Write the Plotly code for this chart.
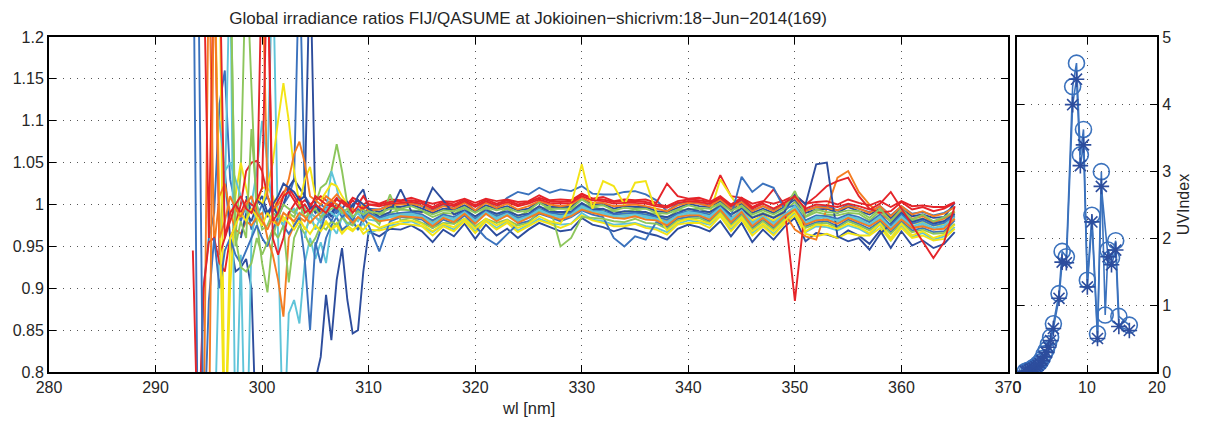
import plotly.graph_objects as go

# Wavelength grid [nm]: 0.5 nm steps up to 310 nm, 1 nm steps above
wl = [293.5, 294.0, 294.5, 295.0, 295.5, 296.0, 296.5, 297.0, 297.5, 298.0,
      298.5, 299.0, 299.5, 300.0, 300.5, 301.0, 301.5, 302.0, 302.5, 303.0,
      303.5, 304.0, 304.5, 305.0, 305.5, 306.0, 306.5, 307.0, 307.5, 308.0,
      308.5, 309.0, 309.5, 310.0,
      311, 312, 313, 314, 315, 316, 317, 318, 319, 320,
      321, 322, 323, 324, 325, 326, 327, 328, 329, 330,
      331, 332, 333, 334, 335, 336, 337, 338, 339, 340,
      341, 342, 343, 344, 345, 346, 347, 348, 349, 350,
      351, 352, 353, 354, 355, 356, 357, 358, 359, 360,
      361, 362, 363, 364, 365]

# Ratio FIJ/QASUME (x1000) per scan; each scan ends at 365 nm
scan_01 = [950,1040,960,920,925,935,900,700,650,600,620,640,660,600,650,700,720,760,790,818,892,838,910,948,886,846,850,920,968,
           962,971,970,975,968,955,970,962,977,959, 976,963,971,960,970,978,973,968,970,984,
           976,973,968,972,970,966,963,958,971,976, 973,968,980,962,978,955,970,958,973,984,
           956,966,964,960,969,963,953,969,948,968, 951,957,948,953,967]
scan_02 = [1400,650,900,960,990,1120,1160,1030,1000,980,1000,970,985,1000,1010,995,990,1000,1010,1030,1300,1010,1000,990,1000,995,1005,990,995,985,1000,1005,990,995,
           994,1000,1001,1003,998,993,1000,995,1004,993, 1004,996,1008,1015,1012,1020,1014,1018,1016,1022,
           1013,1012,1012,1015,1016,1012,1005,992,1001,1003, 1001,999,1007,997,1004,993,998,993,1000,1009,
           993,997,998,993,1000,995,991,998,987,998, 989,991,987,990,997]
scan_03 = [700,960,1010,1300,700,940,650,960,1000,980,1040,1300,960,700,870,886,858,930,960,935,955,930,975,965,985,975,980,970,978,965,
           971,975,977,980,974,967,976,970,982,968, 981,972,980,969,976,983,978,976,977,990,
           982,980,976,977,978,974,972,967,977,981, 979,976,986,970,983,966,975,965,978,990,
           967,974,973,969,975,971,964,976,957,975, 961,966,958,962,973]
scan_04 = [960,1040,1300,1130,980,930,895,960,985,975,990,985,1000,995,985,1000,1020,1025,1040,1072,1040,1000,985,990,995,985,
           988,990,994,993,992,985,990,989,996,985, 996,988,995,986,992,997,994,990,994,1001,
           997,994,992,991,994,990,989,984,993,994, 995,990,1001,987,998,985,990,985,992,1003,
           985,991,988,987,990,989,981,992,979,990, 981,983,979,980,991]
scan_05 = [1300,700,900,1010,1050,1020,990,1000,1020,1020,1010,990,980,990,975,985,970,980,975,970,980,972,978,968,975,970,975,965,970,
           969,972,977,976,974,963,974,968,980,966, 980,970,978,967,974,981,977,972,977,987,
           981,978,974,974,977,972,970,964,976,978, 978,972,986,968,982,963,974,963,977,987,
           965,962,965,960,966,963,963,972,957,972, 960,963,957,959,971]
scan_06 = [700,1300,950,1010,1025,990,970,965,980,975,985,990,960,940,910,866,960,975,985,980,990,985,980,990,1000,995,990,985,995,990,1000,992,
           984,986,990,989,988,979,988,983,992,981, 992,984,991,982,988,993,990,986,990,997,
           993,990,988,987,990,986,985,980,989,990, 991,986,997,983,994,979,988,979,990,970,
           962,958,995,1032,1040,1015,1000,988,981,992, 983,986,979,983,991]
scan_07 = [945,700,900,955,960,930,920,960,975,1000,1040,1050,1052,1040,1010,990,1005,1015,1020,1010,1000,1005,1000,1005,1010,1005,1000,1008,1003,1000,1008,1005,1000,1004,
           1001,1006,1005,1008,1004,1001,1004,1003,1007,1002, 1007,1004,1006,1003,1004,1011,1005,1006,1005,1013,
           1007,1009,1004,1006,1005,1006,1002,1025,1010,1007, 1008,1004,1035,1010,1008,1001,1004,1001,1005,1011,
           1001,1003,1004,1000,1006,1002,999,1004,997,1004, 998,999,997,997,1003]
scan_08 = [960,990,980,1000,1010,990,1000,985,1000,1020,1030,1020,1010,1300,990,995,985,990,1000,995,1003,995,1010,1018,995,
           991,997,997,1000,995,990,995,994,999,992, 999,995,998,993,995,1004,997,997,997,1008,
           1000,1001,995,998,997,997,992,991,996,1001, 998,997,1004,994,1001,990,995,990,997,1006,
           990,994,995,990,997,992,988,995,984,995, 986,988,984,985,1002]
scan_09 = [1300,700,885,960,900,945,960,940,930,945,960,975,960,950,970,985,975,965,975,985,935,850,955,930,960,975,985,970,975,980,970,985,975,
           944,980,985,984,982,972,982,977,987,974, 960,952,965,977,980,989,985,980,985,993,
           988,985,960,950,962,958,979,973,983,985, 986,980,993,977,989,972,982,972,985,993,
           974,979,980,974,982,977,971,980,967,980, 969,972,967,968,981]
scan_10 = [1100,1040,1050,1030,1010,990,1000,1040,1100,1050,990,985,975,990,995,985,1000,990,985,978,990,1040,1020,990,975,985,980,990,982,
           980,985,986,987,984,976,984,981,989,979, 989,982,987,980,984,992,986,984,986,996,
           990,989,984,985,986,984,981,977,985,989, 987,984,994,981,991,976,984,976,986,996,
           976,983,982,979,984,981,974,984,970,984, 972,976,970,973,983]
scan_11 = [1300,960,925,920,930,960,940,955,970,960,975,907,960,975,965,950,960,975,970,980,975,985,978,975,985,980,990,
           976,1012,981,984,978,972,978,977,983,974, 983,978,982,975,978,992,998,950,960,985,
           984,983,980,979,983,978,977,971,981,983, 984,978,991,975,987,970,980,970,983,991,
           972,977,978,972,980,975,969,978,965,978, 967,970,965,966,977]
scan_12 = [1010,1000,1020,1050,1100,1145,1100,1040,1000,1030,1045,1010,1005,1015,1025,1022,1010,1000,995,990,1000,995,
           982,988,988,991,986,981,986,985,990,983, 990,986,989,984,986,995,988,988,988,999,
           991,992,986,989,988,988,983,982,987,992, 989,988,1030,1010,992,981,986,981,988,997,
           981,985,986,981,988,983,979,986,975,986, 977,979,975,976,985]
scan_13 = [1300,1010,995,1000,1010,1030,1060,1075,1050,1010,1005,1000,1010,1005,1012,1005,1000,995,990,998,993,
           994,999,1000,1001,998,992,998,995,1002,993, 1002,996,1001,994,998,1004,1000,998,1000,1008,
           1002,1002,998,999,1000,998,995,992,999,1002, 1001,998,1006,995,1003,992,998,992,1000,1008,
           992,997,996,993,998,995,990,998,986,998, 988,992,986,989,997]
scan_14 = [1300,960,1300,940,960,980,1000,990,1005,1000,995,1300,1300,960,940,960,990,1000,1010,990,995,1010,1005,1000,998,1006,1002,997,1005,1000,1010,1000,
           1000,1003,1004,1005,1003,997,1003,1000,1006,999, 1006,1001,1005,1000,1003,1008,1004,1003,1004,1012,
           1007,1006,1003,1004,1004,1003,1000,998,1004,1006, 1005,1003,1010,1000,1008,997,1003,1018,1000,885,
           1000,1010,1022,1028,1032,1010,995,990,992,1003, 994,997,992,995,1002]
scan_15 = [1010,990,1005,1000,985,1000,1010,1025,1020,1015,1005,1010,995,1000,990,995,985,1000,995,990,1000,1005,1000,995,
           985,991,1018,992,991,1020,1005,988,993,986, 993,989,992,987,989,998,991,991,991,1002,
           994,995,989,992,991,991,986,985,990,995, 992,991,998,988,995,984,989,984,991,1012,
           1000,1048,1050,962,956,960,946,965,977,990, 979,983,977,980,989]
scan_16 = [950,970,990,980,995,985,990,980,995,985,990,
           984,988,990,991,988,981,988,985,992,983, 992,986,991,984,988,995,990,988,990,999,
           993,992,988,989,990,988,985,982,989,992, 991,988,997,985,1033,1015,1025,1020,995,999,
           981,987,986,983,988,985,979,988,975,988, 977,981,975,978,987]
scan_17 = [960,990,970,985,995,990,985,995,990,985,990,980,988,
           982,986,988,989,986,978,986,983,991,981, 991,984,989,982,986,994,988,986,988,998,
           992,991,986,987,988,986,983,979,987,991, 989,986,996,983,993,978,986,978,988,998,
           978,985,984,981,986,983,976,986,972,986, 974,978,972,975,985]
scan_18 = [1300,1300,950,980,960,1090,1000,970,975,990,985,1000,995,990,1000,985,990,995,985,990,995,998,990,995,985,992,988,992,
           989,995,995,998,993,988,993,992,997,990, 997,993,996,991,993,1002,995,995,995,1006,
           998,999,993,996,995,995,990,989,994,999, 996,995,1002,992,999,988,993,988,995,1016,
           986,994,991,990,993,992,984,995,980,995, 982,988,980,985,992]
scan_19 = [1300,990,700,960,975,990,980,995,985,975,990,980,975,985,978,970,980,972,965,975,968,978,970,975,965,972,968,975,970,978,
           972,977,980,981,977,968,977,973,983,971, 983,975,981,972,977,986,980,977,1000,1048,
           995,1028,1022,1000,1026,1028,990,969,979,983, 981,977,989,973,985,968,977,968,980,992,
           968,976,975,971,977,973,966,977,960,977, 963,968,960,964,976]
scan_20 = [700,1300,960,980,1010,995,985,1000,1010,990,980,970,985,975,990,985,980,990,985,978,985,990,1000,1005,1000,995,985,978,985,980,988,
           980,982,986,985,984,974,984,979,989,977, 989,980,987,978,984,990,986,982,986,994,
           990,987,984,983,986,982,981,975,985,987, 987,982,994,979,991,974,984,974,986,994,
           976,981,982,977,984,979,974,982,970,982, 972,974,970,971,983]
scan_21 = [1300,960,990,1000,1010,995,990,1005,1020,1300,980,990,1010,1015,1005,995,1000,990,1000,995,990,1000,995,1005,1000,990,998,995,1000,
           998,1001,1002,1003,1001,995,1001,998,1004,997, 1004,999,1003,998,1001,1006,1002,1001,1002,1010,
           1005,1004,1001,1002,1002,1001,998,996,1002,1004, 1003,1001,1008,998,1006,995,1001,995,1002,1010,
           995,1000,999,997,1001,998,994,1001,1015,995, 975,955,936,955,998]

scans = [scan_01, scan_02, scan_03, scan_04, scan_05, scan_06, scan_07,
         scan_08, scan_09, scan_10, scan_11, scan_12, scan_13, scan_14,
         scan_15, scan_16, scan_17, scan_18, scan_19, scan_20, scan_21]

palette = ["#2d4d9d", "#3b72bd", "#5fc4d9", "#8dc65c", "#f3e416", "#f47c21", "#e52429"]

# UV index time series (hours)
t_circle = [1.2, 1.5, 1.8, 2.1, 2.4, 2.7, 3.0, 3.3, 3.6, 3.9, 4.2, 4.5, 4.8, 5.2, 6.0, 6.45,
            7.05, 7.95, 8.5, 9.05, 9.5, 10.05, 10.7, 11.5, 12.05, 12.6, 13.0, 13.5, 14.1, 14.55, 16.05]
uvi_circle = [0.01, 0.02, 0.03, 0.05, 0.07, 0.09, 0.12, 0.15, 0.2, 0.27, 0.33, 0.42, 0.52, 0.72, 1.17, 1.80,
              1.72, 4.26, 4.61, 3.24, 3.62, 1.37, 2.34, 0.57, 2.99, 0.85, 1.82, 1.70, 1.96, 0.83, 0.70]
t_star = [1.2, 1.5, 1.8, 2.1, 2.4, 2.7, 3.0, 3.3, 3.6, 3.9, 4.2, 4.5, 4.8, 5.2, 6.0, 6.45,
          7.05, 7.95, 8.5, 9.05, 9.5, 10.05, 10.7, 11.5, 12.05, 13.0, 13.5, 14.1, 14.55, 16.05]
uvi_star = [0.01, 0.015, 0.025, 0.04, 0.06, 0.08, 0.10, 0.13, 0.17, 0.23, 0.29, 0.37, 0.47, 0.65, 1.10, 1.64,
            1.63, 3.99, 4.37, 3.08, 3.39, 1.27, 2.24, 0.50, 2.77, 1.72, 1.60, 1.82, 0.68, 0.62]

y_ticks = [0.8, 0.85, 0.9, 0.95, 1.0, 1.05, 1.1, 1.15, 1.2]
y_tick_text = ["0.8", "0.85", "0.9", "0.95", "1", "1.05", "1.1", "1.15", "1.2"]

W, H = 1213, 423
FONT = "Liberation Sans, Arial, Helvetica, sans-serif"
TXT = "#262626"

fig = go.Figure()

for i, s in enumerate(scans):
    fig.add_trace(go.Scatter(
        x=wl[-len(s):], y=[v / 1000 for v in s], mode="lines",
        line=dict(color=palette[i % len(palette)], width=1.9),
        xaxis="x", yaxis="y", showlegend=False, hoverinfo="skip"))

fig.add_trace(go.Scatter(
    x=t_circle, y=uvi_circle, mode="lines+markers",
    line=dict(color="#3b72bd", width=1.6),
    marker=dict(symbol="circle-open", size=16, color="#3b72bd", line=dict(width=1.6)),
    xaxis="x2", yaxis="y2", showlegend=False))
fig.add_trace(go.Scatter(
    x=t_star, y=uvi_star, mode="lines+markers",
    line=dict(color="#3b72bd", width=1.6),
    marker=dict(symbol="asterisk-open", size=13, color="#2d4d9d", line=dict(width=1.6, color="#2d4d9d")),
    xaxis="x2", yaxis="y2", showlegend=False))

ytop, ybot = 37, 372
dom_y = [(H - ybot) / H, (H - ytop) / H]

axis_common = dict(
    automargin=False,
    showline=True, linecolor="black", linewidth=2, mirror="ticks",
    ticks="inside", ticklen=7, tickwidth=1, tickcolor="black",
    showgrid=True, gridcolor="#555555", gridwidth=1, griddash="1px,6px",
    zeroline=False, tickfont=dict(family=FONT, size=16, color=TXT),
)

fig.update_layout(
    template="none",
    width=W, height=H,
    margin=dict(l=0, r=0, t=0, b=0, pad=0, autoexpand=False),
    paper_bgcolor="white", plot_bgcolor="white",
    xaxis=dict(domain=[49 / W, 1008 / W], range=[280, 370], dtick=10, tick0=280,
               anchor="y", **axis_common),
    yaxis=dict(domain=dom_y, range=[0.8, 1.2], tickvals=y_ticks, ticktext=y_tick_text,
               anchor="x", **axis_common),
    xaxis2=dict(domain=[1017 / W, 1157 / W], range=[0, 20], dtick=10, tick0=0,
                anchor="y2", **axis_common),
    yaxis2=dict(domain=dom_y, range=[0, 5], dtick=1, side="right", anchor="x2",
                title=dict(text="UVIndex", font=dict(family=FONT, size=16, color=TXT), standoff=8),
                **axis_common),
    title=dict(text="Global irradiance ratios FIJ/QASUME at Jokioinen\u2212shicrivm:18\u2212Jun\u22122014(169)",
               x=528 / W, xanchor="center", y=1 - 18 / H, yanchor="middle",
               font=dict(family=FONT, size=17, color=TXT)),
    annotations=[dict(text="wl [nm]", x=528 / W, y=1 - 408 / H, xref="paper", yref="paper",
                      showarrow=False, xanchor="center", yanchor="middle",
                      font=dict(family=FONT, size=16.5, color=TXT))],
)

fig.write_html("out.html")
